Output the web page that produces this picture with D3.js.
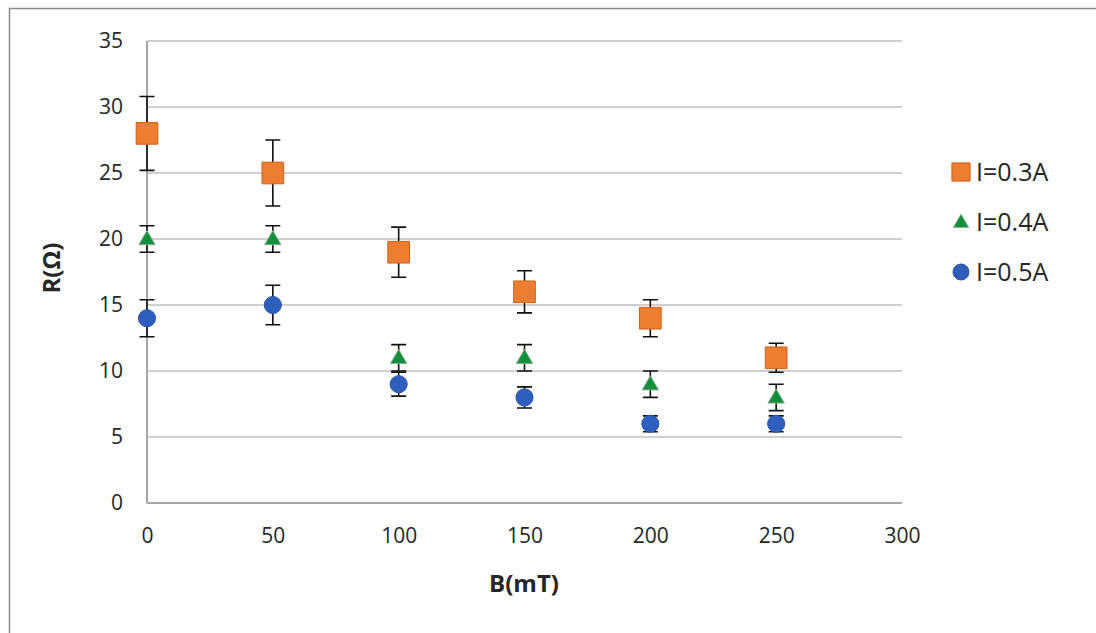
<!DOCTYPE html>
<html>
<head>
<meta charset="utf-8">
<script src="https://cdn.jsdelivr.net/npm/d3@7"></script>
<style>
  html, body { margin: 0; padding: 0; background: #fff; }
  svg { display: block; }
  text { font-family: "Open Sans", "Noto Sans", sans-serif; fill: #262626; }
</style>
</head>
<body>
<svg id="chart" width="1096" height="633"></svg>
<script>
const bValues = [0, 50, 100, 150, 200, 250];
const seriesNames = ["I=0.3A", "I=0.4A", "I=0.5A"];
const r03 = [28, 25, 19, 16, 14, 11];
const r04 = [20, 20, 11, 11, 9, 8];
const r05 = [14, 15, 9, 8, 6, 6];
const err03 = [2.8, 2.5, 1.9, 1.6, 1.4, 1.1];
const err04 = [1, 1, 1, 1, 1, 1];
const err05 = [1.4, 1.5, 0.9, 0.8, 0.6, 0.6];
const xTicks = [0, 50, 100, 150, 200, 250, 300];
const yTicks = [0, 5, 10, 15, 20, 25, 30, 35];

const series = [
  { name: seriesNames[0], values: r03, errs: err03, symbol: d3.symbolSquare, size: 470, fill: "#ED7D31", stroke: "#C9631E" },
  { name: seriesNames[1], values: r04, errs: err04, symbol: d3.symbolTriangle, size: 115, fill: "#109038", stroke: "#8aa890" },
  { name: seriesNames[2], values: r05, errs: err05, symbol: d3.symbolCircle, size: 230, fill: "#2F5FBE", stroke: "#2A54A8" }
];

const svg = d3.select("#chart");
const plot = { left: 147, right: 902, top: 41, bottom: 503 };

const x = d3.scaleLinear().domain([0, 300]).range([plot.left, plot.right]);
const y = d3.scaleLinear().domain([0, 35]).range([plot.bottom, plot.top]);

// outer frame (left & top edges visible)
svg.append("path")
  .attr("d", `M9.5,633 L9.5,8.5 L1096,8.5`)
  .attr("fill", "none").attr("stroke", "#8c8c8c").attr("stroke-width", 1.5);

// gridlines
svg.append("g").selectAll("line").data(yTicks.filter(d => d > 0)).join("line")
  .attr("x1", plot.left).attr("x2", plot.right)
  .attr("y1", d => y(d)).attr("y2", d => y(d))
  .attr("stroke", "#d0d0d0").attr("stroke-width", 2);

// axes lines
svg.append("line").attr("x1", plot.left).attr("x2", plot.right)
  .attr("y1", y(0)).attr("y2", y(0)).attr("stroke", "#a6a6a6").attr("stroke-width", 2);
svg.append("line").attr("x1", x(0)).attr("x2", x(0))
  .attr("y1", y(0)).attr("y2", y(35)).attr("stroke", "#a6a6a6").attr("stroke-width", 2);

// tick labels via d3 axes (no lines)
const yAxis = d3.axisLeft(y).tickValues(yTicks).tickSize(0).tickPadding(24);
const gy = svg.append("g").attr("transform", `translate(${plot.left},0)`).call(yAxis);
gy.select(".domain").remove();
gy.selectAll("text").attr("font-size", 21).attr("fill", "#262626")
  .attr("font-family", "'Open Sans', sans-serif");

const xAxis = d3.axisBottom(x).tickValues(xTicks).tickSize(0).tickPadding(25);
const gx = svg.append("g").attr("transform", `translate(0,${plot.bottom})`).call(xAxis);
gx.select(".domain").remove();
gx.selectAll("text").attr("font-size", 21).attr("fill", "#262626")
  .attr("font-family", "'Open Sans', sans-serif");

// axis titles
svg.append("text").attr("x", 524).attr("y", 592).attr("text-anchor", "middle")
  .attr("font-size", 24).attr("font-weight", "bold").text("B(mT)");
svg.append("text").attr("transform", "translate(60,268) rotate(-90)")
  .attr("text-anchor", "middle").attr("font-size", 24).attr("font-weight", "bold").text("R(Ω)");

// series: error bars and markers
const cap = 7.5;
series.forEach(s => {
  const g = svg.append("g");
  const pts = bValues.map((b, i) => ({ b, v: s.values[i], e: s.errs[i] }));
  const eb = g.append("g").attr("stroke", "#111").attr("stroke-width", 1.6).attr("fill", "none");
  eb.selectAll("path").data(pts).join("path")
    .attr("d", d => {
      const cx = x(d.b), y1 = y(d.v + d.e), y2 = y(d.v - d.e);
      return `M${cx},${y1}L${cx},${y2}M${cx - cap},${y1}L${cx + cap},${y1}M${cx - cap},${y2}L${cx + cap},${y2}`;
    });
  g.selectAll(".m").data(pts).join("path").attr("class", "m")
    .attr("transform", d => `translate(${x(d.b)},${y(d.v) + (s.symbol === d3.symbolTriangle ? 1 : 0)})`)
    .attr("d", d3.symbol().type(s.symbol).size(s.size))
    .attr("fill", s.fill).attr("stroke", s.stroke).attr("stroke-width", 1);
});

// legend
const legendY = [172, 222, 272];
const lg = svg.append("g");
series.forEach((s, i) => {
  const sizes = [330, 100, 200];
  lg.append("path")
    .attr("transform", `translate(961,${legendY[i] + (i === 1 ? 1 : 0)})`)
    .attr("d", d3.symbol().type(s.symbol).size(sizes[i]))
    .attr("fill", s.fill).attr("stroke", s.stroke).attr("stroke-width", 1);
  lg.append("text").attr("x", 976).attr("y", legendY[i]).attr("dy", "0.35em")
    .attr("font-size", 25).text(s.name);
});
</script>
</body>
</html>
